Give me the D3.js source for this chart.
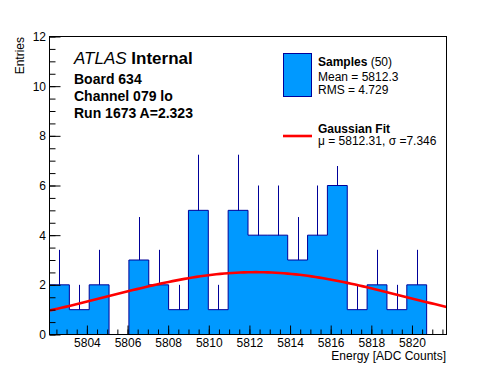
<!DOCTYPE html>
<html>
<head>
<meta charset="utf-8">
<script src="https://cdn.jsdelivr.net/npm/d3@7"></script>
<style>
  body { margin: 0; background: #fff; }
  svg { display: block; font-family: "Liberation Sans", Arial, Helvetica, sans-serif; }
</style>
</head>
<body>
<svg id="chart"></svg>
<script>
// histogram range and contents
const binLo = 5802.16;
const binHi = 5821.70;
const counts = [2, 1, 2, 0, 3, 2, 1, 5, 1, 5, 4, 4, 3, 4, 6, 1, 2, 1, 2, 0];
const errors = [1.41, 1, 1.41, 0, 1.73, 1.41, 1, 2.24, 1, 2.24, 2, 2, 1.73, 2, 2.45, 1, 1.41, 1, 1.41, 0];

// gaussian fit parameters
const fitMu = 5812.31;
const fitSigma = 7.346;
const fitAmp = 2.51;

const xTicks = [5804, 5806, 5808, 5810, 5812, 5814, 5816, 5818, 5820];
const yTicks = [0, 2, 4, 6, 8, 10, 12];

const infoLines = ['Board 634', 'Channel 079 lo', 'Run 1673 A=2.323'];

const width = 496;
const height = 372;
const frame = {left: 49.5, right: 446.5, top: 36.5, bottom: 334.5};

const fillColor = '#0099ff';
const lineColor = '#000099';

const svg = d3.select('#chart')
    .attr('width', width)
    .attr('height', height);

const x = d3.scaleLinear()
    .domain([binLo, binHi])
    .range([frame.left, frame.right]);

const y = d3.scaleLinear()
    .domain([0, 12])
    .range([frame.bottom, frame.top]);

const binW = (binHi - binLo) / counts.length;
const bins = counts.map((c, i) => ({x0: binLo + i * binW, c: c, e: errors[i]}));
const steps = bins.concat([{x0: binHi, c: counts[counts.length - 1]}]);

svg.append('defs')
    .append('clipPath')
    .attr('id', 'clip')
    .append('rect')
    .attr('x', frame.left)
    .attr('y', frame.top)
    .attr('width', frame.right - frame.left)
    .attr('height', frame.bottom - frame.top);

// error bars (only the upper half shows above the fill)
svg.append('g')
    .selectAll('line')
    .data(bins.filter(d => d.c > 0))
    .join('line')
    .attr('x1', d => Math.round(x(d.x0 + binW / 2)) + 0.5)
    .attr('x2', d => Math.round(x(d.x0 + binW / 2)) + 0.5)
    .attr('y1', d => y(d.c - d.e))
    .attr('y2', d => y(d.c + d.e))
    .attr('stroke', lineColor)
    .attr('stroke-width', 1);

const area = d3.area()
    .x(d => x(d.x0))
    .y0(y(0))
    .y1(d => y(d.c))
    .curve(d3.curveStepAfter);

const outline = d3.line()
    .x(d => x(d.x0))
    .y(d => y(d.c))
    .curve(d3.curveStepAfter);

svg.append('path')
    .datum(steps)
    .attr('d', area)
    .attr('fill', fillColor);

svg.append('path')
    .datum([{x0: binLo, c: 0}].concat(steps).concat([{x0: binHi, c: 0}]))
    .attr('d', outline)
    .attr('fill', 'none')
    .attr('stroke', lineColor)
    .attr('stroke-width', 1);

// fit curve
const fitPts = d3.range(0, 101).map(i => {
    const v = binLo + i * (binHi - binLo) / 100;
    return [v, fitAmp * Math.exp(-0.5 * Math.pow((v - fitMu) / fitSigma, 2))];
});

svg.append('path')
    .datum(fitPts)
    .attr('clip-path', 'url(#clip)')
    .attr('d', d3.line().x(d => x(d[0])).y(d => y(d[1])))
    .attr('fill', 'none')
    .attr('stroke', '#ff0000')
    .attr('stroke-width', 2.6);

// axes, ticks pointing into the frame
const xMinor = d3.range(5802.5, binHi, 0.5);
const yMinor = d3.range(0, 12.01, 0.5);

const xAxis = svg.append('g')
    .attr('transform', `translate(0,${frame.bottom})`)
    .call(d3.axisBottom(x).tickValues(xMinor).tickSize(-5).tickFormat(''));
xAxis.append('g')
    .call(d3.axisBottom(x).tickValues(xTicks).tickSize(-9).tickPadding(3.5).tickFormat(d3.format('d')));

const yAxis = svg.append('g')
    .attr('transform', `translate(${frame.left},0)`)
    .call(d3.axisLeft(y).tickValues(yMinor).tickSize(-6).tickFormat(''));
yAxis.append('g')
    .call(d3.axisLeft(y).tickValues(yTicks).tickSize(-11).tickPadding(3.5).tickFormat(d3.format('d')));

svg.selectAll('.domain').remove();
svg.selectAll('.tick line').attr('stroke', '#000');
svg.selectAll('.tick text')
    .attr('font-size', 12)
    .attr('font-family', '"Liberation Sans", Arial, sans-serif')
    .attr('fill', '#000');

svg.append('rect')
    .attr('x', frame.left)
    .attr('y', frame.top)
    .attr('width', frame.right - frame.left)
    .attr('height', frame.bottom - frame.top)
    .attr('fill', 'none')
    .attr('stroke', '#000')
    .attr('stroke-width', 1);

// axis titles
svg.append('text')
    .attr('x', 446)
    .attr('y', 360)
    .attr('text-anchor', 'end')
    .attr('font-size', 12)
    .text('Energy [ADC Counts]');

svg.append('text')
    .attr('transform', 'translate(23.5,37) rotate(-90)')
    .attr('text-anchor', 'end')
    .attr('font-size', 12)
    .text('Entries');

// ATLAS label block
const atlas = svg.append('text')
    .attr('x', 74)
    .attr('y', 63.5)
    .attr('font-size', 17);
atlas.append('tspan').attr('font-style', 'italic').text('ATLAS');
atlas.append('tspan').attr('font-weight', 'bold').text(' Internal');

svg.append('g')
    .selectAll('text')
    .data(infoLines)
    .join('text')
    .attr('x', 74)
    .attr('y', (d, i) => 83.5 + i * 17.3)
    .attr('font-size', 14)
    .attr('font-weight', 'bold')
    .text(d => d);

// legend (white box hides what is behind it)
const leg = svg.append('g');
leg.append('rect')
    .attr('x', 278)
    .attr('y', 44)
    .attr('width', 164)
    .attr('height', 122)
    .attr('fill', '#fff');

leg.append('rect')
    .attr('x', 283.5)
    .attr('y', 53.5)
    .attr('width', 28)
    .attr('height', 43)
    .attr('fill', fillColor)
    .attr('stroke', lineColor);

const samples = leg.append('text').attr('x', 318).attr('y', 66).attr('font-size', 12);
samples.append('tspan').attr('font-weight', 'bold').text('Samples');
samples.append('tspan').text(' (50)');
leg.append('text').attr('x', 318).attr('y', 80.5).attr('font-size', 12).text('Mean = 5812.3');
leg.append('text').attr('x', 318).attr('y', 93.5).attr('font-size', 12).text('RMS = 4.729');

leg.append('line')
    .attr('x1', 283).attr('x2', 312)
    .attr('y1', 136).attr('y2', 136)
    .attr('stroke', '#ff0000')
    .attr('stroke-width', 2.6);

leg.append('text').attr('x', 318).attr('y', 132.5).attr('font-size', 12).attr('font-weight', 'bold').text('Gaussian Fit');
leg.append('text').attr('x', 318).attr('y', 145).attr('font-size', 12).text('μ = 5812.31, σ =7.346');
</script>
</body>
</html>
